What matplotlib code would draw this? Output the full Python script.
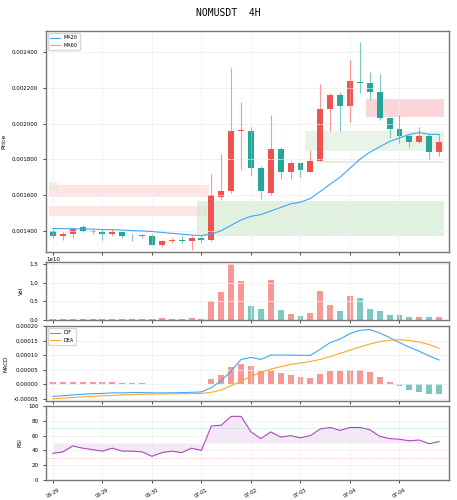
import matplotlib
matplotlib.use("Agg")
import matplotlib.pyplot as plt
import numpy as np

opens  = [0.001400,0.00137,0.00138,0.00142,0.00140,0.00139,0.00138,0.00139,0.00137,0.001373,
          0.00137,0.00132,0.00134,0.00135,0.00134,0.00136,0.00135,0.00159,0.00162,0.00196,
          0.00196,0.00175,0.00161,0.00186,0.00173,0.00178,0.00173,0.00179,0.00208,0.00216,
          0.00210,0.00223,0.00223,0.00218,0.00203,0.00197,0.00193,0.00190,0.00193,0.00184]
closes = [0.001372,0.00138,0.00141,0.00140,0.00139,0.00138,0.00139,0.00137,0.001368,0.00137,
          0.00132,0.00134,0.00135,0.00134,0.00136,0.00135,0.00160,0.00162,0.00196,0.001962,
          0.00175,0.00162,0.00186,0.00173,0.00178,0.00174,0.00179,0.00208,0.00216,0.00210,
          0.00224,0.002228,0.00218,0.00203,0.00197,0.00193,0.00190,0.00193,0.00184,0.00190]
highs  = [0.00141,0.00139,0.00142,0.00143,0.00141,0.00141,0.00141,0.00139,0.00138,0.00138,
          0.00138,0.00135,0.00136,0.00137,0.00137,0.00137,0.00172,0.00183,0.00231,0.00212,
          0.00198,0.00176,0.00205,0.00187,0.00179,0.00178,0.00185,0.00222,0.00217,0.00218,
          0.00236,0.00246,0.00229,0.00228,0.00204,0.00205,0.00194,0.00198,0.00194,0.00194]
lows   = [0.00136,0.00135,0.00136,0.00139,0.00138,0.00135,0.00137,0.00136,0.00134,0.00136,
          0.00132,0.00131,0.00133,0.00133,0.00129,0.00133,0.00134,0.00157,0.00161,0.00174,
          0.00171,0.00158,0.00160,0.00169,0.00169,0.00170,0.00173,0.00179,0.00196,0.00196,
          0.00201,0.00217,0.00214,0.00202,0.00192,0.00189,0.00187,0.00189,0.00180,0.00182]
ma20 = [0.001412,0.001411,0.00141,0.00141,0.001408,0.001406,0.001405,0.001403,0.0014,0.001398,
        0.001395,0.00139,0.001385,0.00138,0.001375,0.001372,0.00138,0.0014,0.00143,0.00146,
        0.00148,0.00149,0.00151,0.00153,0.00155,0.00156,0.00158,0.00162,0.00166,0.0017,
        0.00175,0.0018,0.00184,0.00187,0.0019,0.00192,0.00194,0.00195,0.00194,0.00194]
volume_1e10 = [0.03,0.03,0.03,0.03,0.03,0.04,0.02,0.02,0.03,0.02,0.04,0.06,0.03,0.03,0.05,0.03,
          0.51,0.74,1.5,1.04,0.38,0.29,1.07,0.27,0.16,0.10,0.18,0.77,0.40,0.24,
          0.65,0.60,0.30,0.23,0.14,0.13,0.08,0.08,0.09,0.08]
dif = [-0.000042,-0.00004,-0.000037,-0.000035,-0.000033,-0.000032,-0.00003,-0.00003,-0.000029,-0.000029,
       -0.00003,-0.00003,-0.00003,-0.000029,-0.000028,-0.000027,-0.000012,0.000012,0.000045,0.000085,
       0.000092,0.000085,0.0001,0.0001,0.0001,0.000099,0.000099,0.00012,0.000143,0.000155,
       0.000174,0.000185,0.000188,0.000176,0.00016,0.000143,0.000127,0.000113,0.000097,0.000083]
dea = [-0.00005,-0.000048,-0.000046,-0.000044,-0.000042,-0.00004,-0.000039,-0.000037,-0.000036,-0.000035,
       -0.000034,-0.000034,-0.000033,-0.000033,-0.000032,-0.000032,-0.000028,-0.00002,-0.000005,0.00001,
       0.000027,0.00004,0.000052,0.00006,0.000068,0.000073,0.000078,0.000085,0.000095,0.000106,
       0.000117,0.000128,0.000138,0.000146,0.000151,0.000153,0.00015,0.000145,0.000136,0.000123]
hist = [0.000006,0.000006,0.000006,0.000006,0.000006,0.000006,0.000006,0.000005,0.000004,0.000003,
        0.000002,0.000001,0.000001,0.000001,0.000001,0.000001,0.000017,0.000032,0.000058,0.000071,
        0.000062,0.000045,0.000048,0.000037,0.00003,0.000023,0.000021,0.000034,0.000044,0.000045,
        0.00005,0.00005,0.000043,0.000026,0.000006,-0.000008,-0.00002,-0.000026,-0.000035,-0.000035]
rsi = [36,38,46,43,41,39,43,39,39,38,32,37,39,37,43,40,73,74,86,86,
       65,56,65,58,60,57,60,69,71,67,71,71,68,59,56,55,53,54,49,52]
tick_pos = [0,5,10,15,20,25,30,35]
tick_labels = ['06-29','06-29','06-30','07-01','07-02','07-03','07-04','07-04']
# zones: (x0, x1, y0, y1, color)
zones = [(-0.4,15.8,0.001588,0.001655,'#f8d0d0'),(-0.4,15.6,0.001482,0.001536,'#f8d0d0'),
         (-0.4,0.4,0.00163,0.001672,'#d8ecd8'),(14.6,39.5,0.001367,0.001567,'#c8e6c8'),
         (31.6,39.5,0.002038,0.002141,'#f5b5b8'),(25.5,39.5,0.001848,0.001961,'#d8ecd8'),
         (26.7,39.5,0.00178,0.00179,'#c8e6c8')]

UP, DN = '#ef5350', '#26a69a'
x = np.arange(len(opens))
fig = plt.figure(figsize=(4.57,5.0), dpi=100)
W=457; H=500
def ax_at(l,t,r,b): return fig.add_axes([l/W,1-b/H,(r-l)/W,(b-t)/H])
ax1 = ax_at(46,31,449,252); ax2 = ax_at(46,262,449,320)
ax3 = ax_at(46,326,449,401); ax4 = ax_at(46,406,449,480)
for a in (ax1,ax2,ax3,ax4):
    a.set_xlim(-0.7,40)
    a.grid(True,color='#eeeeee',lw=0.5)
    a.tick_params(labelsize=4,length=2,width=0.5)
    for s in a.spines.values(): s.set_color('#777777'); s.set_linewidth(1)
    a.set_xticks(tick_pos)
    a.set_xticklabels([])
fig.suptitle('NOMUSDT  4H', y=0.985, fontsize=7, family='DejaVu Sans Mono')

for x0,x1,y0,y1,c in zones:
    ax1.fill_between([x0,x1],y0,y1,color=c,alpha=0.55,lw=0)
cols = [UP if c>=o else DN for o,c in zip(opens,closes)]
for i in x:
    ax1.vlines(i,lows[i],highs[i],color=cols[i],lw=0.8,alpha=0.6)
    lo=min(opens[i],closes[i]); h=max(abs(closes[i]-opens[i]),0.000004)
    ax1.bar(i,h,bottom=lo,width=0.6,color=cols[i])
ax1.plot(x,ma20,color='#42a5f5',lw=0.8,label='MA20')
ax1.plot([],[],color='#ffa726',lw=0.8,label='MA60')
ax1.legend(loc='upper left',fontsize=3.5,frameon=True)
ax1.set_ylim(0.00128,0.00252)
yt=[0.0014,0.0016,0.0018,0.0020,0.0022,0.0024]
ax1.set_yticks(yt)
ax1.set_yticklabels(['%.6f'%v for v in yt])
ax1.set_ylabel('Price',fontsize=4.5)

ax2.bar(x,volume_1e10,width=0.6,color=cols,alpha=0.6)
ax2.set_ylim(0,1.55); ax2.set_yticks([0,0.5,1.0,1.5])
ax2.text(0,1.01,'1e10',transform=ax2.transAxes,fontsize=4)
ax2.set_ylabel('Vol',fontsize=4)

ax3.bar(x,hist,width=0.6,color=[UP if h>=0 else DN for h in hist],alpha=0.6)
ax3.plot(x,dif,color='#42a5f5',lw=0.8,label='DIF')
ax3.plot(x,dea,color='#ffa726',lw=0.8,label='DEA')
ax3.set_ylim(-0.000058,0.0002)
mt=[-0.00005,0,0.00005,0.0001,0.00015,0.0002]
ax3.set_yticks(mt)
ax3.set_yticklabels(['%.5f'%v for v in mt])
ax3.legend(loc='upper left',fontsize=3.5)
ax3.set_ylabel('MACD',fontsize=4)

ax4.plot(x,rsi,color='#ab47bc',lw=0.8)
ax4.fill_between(x,rsi,50,color='#ab47bc',alpha=0.12,lw=0)
ax4.axhline(70,color='#26a69a',lw=0.4,ls=':',alpha=0.7)
ax4.axhline(30,color='#ef5350',lw=0.4,ls=':',alpha=0.7)
ax4.set_ylim(0,100); ax4.set_yticks([0,20,40,60,80,100])
ax4.set_ylabel('RSI',fontsize=4)
ax4.set_xticklabels(tick_labels,rotation=30,fontsize=3.5)
fig.savefig('out.png',dpi=100)
